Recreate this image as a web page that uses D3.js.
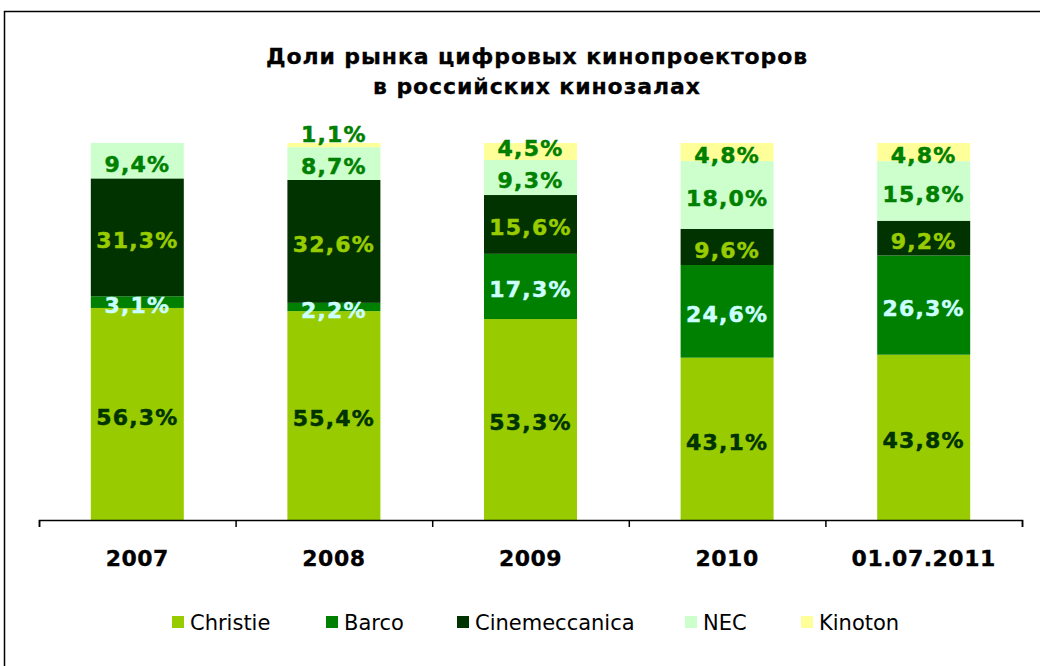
<!DOCTYPE html>
<html>
<head>
<meta charset="utf-8">
<script src="https://cdn.jsdelivr.net/npm/d3@7"></script>
<style>
  body { margin: 0; background: #fff; }
  svg { display: block; }
  text { font-family: "DejaVu Sans", Verdana, sans-serif; }
</style>
</head>
<body>
<div id="chart"></div>
<script>
const categories = ['2007', '2008', '2009', '2010', '01.07.2011'];
const brands = ['Christie', 'Barco', 'Cinemeccanica', 'NEC', 'Kinoton'];
const christie = [56.3, 55.4, 53.3, 43.1, 43.8];
const barco = [3.1, 2.2, 17.3, 24.6, 26.3];
const cinemeccanica = [31.3, 32.6, 15.6, 9.6, 9.2];
const nec = [9.4, 8.7, 9.3, 18.0, 15.8];
const kinoton = [0, 1.1, 4.5, 4.8, 4.8];
const titleLines = ['Доли рынка цифровых кинопроекторов', 'в российских кинозалах'];

const fills = {
    Christie: '#99cc00',
    Barco: '#008000',
    Cinemeccanica: '#003300',
    NEC: '#ccffcc',
    Kinoton: '#ffff99',
};
const labelColors = {
    Christie: '#003300',
    Barco: '#ccffff',
    Cinemeccanica: '#99cc00',
    NEC: '#008000',
    Kinoton: '#008000',
};

const width = 1040;
const height = 666;

const rows = categories.map((cat, i) => ({
    cat,
    Christie: christie[i],
    Barco: barco[i],
    Cinemeccanica: cinemeccanica[i],
    NEC: nec[i],
    Kinoton: kinoton[i],
}));

const svg = d3.select('#chart').append('svg')
    .attr('width', width)
    .attr('height', height);

// outer frame
svg.append('rect')
    .attr('x', 4.5).attr('y', 11.5)
    .attr('width', width + 10).attr('height', height + 10)
    .attr('fill', 'none')
    .attr('stroke', '#000')
    .attr('stroke-width', 1.5);

// title
svg.append('text')
    .attr('text-anchor', 'middle')
    .attr('font-weight', 'bold')
    .attr('font-size', 22)
    .attr('letter-spacing', 0.9)
    .attr('stroke', '#000')
    .attr('stroke-width', 0.3)
    .selectAll('tspan')
    .data(titleLines)
    .join('tspan')
    .attr('x', 537)
    .attr('y', (d, i) => 64 + i * 30)
    .text(d => d);

const x = d3.scaleBand()
    .domain(categories)
    .range([39, 1022])
    .paddingInner(0.527)
    .paddingOuter(0.2635);

const y = d3.scaleLinear().domain([0, 1]).range([520, 143]);

const series = d3.stack()
    .keys(brands)
    .offset(d3.stackOffsetExpand)(rows);

const layer = svg.append('g').attr('class', 'bars')
    .selectAll('g')
    .data(series)
    .join('g')
    .attr('fill', d => fills[d.key]);

layer.selectAll('rect')
    .data(d => d)
    .join('rect')
    .attr('x', d => x(d.data.cat))
    .attr('width', x.bandwidth())
    .attr('y', d => y(d[1]))
    .attr('height', d => y(d[0]) - y(d[1]));

// value labels, centred in each segment; a label too close to the one
// below it is pushed upwards
const fmt = v => `${v.toFixed(1).replace('.', ',')}%`;
const minGap = 32;
const labels = [];
categories.forEach((cat, ci) => {
    let prevY = null;
    series.forEach((s) => {
        const d = s[ci];
        const value = d.data[s.key];
        if (!value) return;
        let ly = y((d[0] + d[1]) / 2) + 3;
        if (prevY !== null && prevY - ly < minGap) ly = prevY - minGap;
        prevY = ly;
        labels.push({cat, key: s.key, value, ly});
    });
});

svg.append('g').attr('class', 'labels')
    .selectAll('text')
    .data(labels)
    .join('text')
    .attr('x', d => x(d.cat) + x.bandwidth() / 2)
    .attr('y', d => d.ly)
    .attr('dy', '0.36em')
    .attr('text-anchor', 'middle')
    .attr('font-weight', 'bold')
    .attr('font-size', 22)
    .attr('letter-spacing', 1.2)
    .attr('fill', d => labelColors[d.key])
    .attr('stroke', d => labelColors[d.key])
    .attr('stroke-width', 0.5)
    .text(d => fmt(d.value));

// category axis line with boundary ticks
const tickScale = d3.scaleLinear().domain([0, categories.length]).range(x.range());
svg.append('g')
    .attr('transform', 'translate(0,520)')
    .call(d3.axisBottom(tickScale).ticks(categories.length).tickSize(7).tickFormat(''))
    .call(g => g.selectAll('path, line').attr('stroke', '#000').attr('stroke-width', 1.5));

svg.append('g')
    .attr('transform', 'translate(0,520)')
    .call(d3.axisBottom(x).tickSize(0).tickPadding(30))
    .call(g => g.select('.domain').remove())
    .call(g => g.selectAll('text')
        .attr('font-family', '"DejaVu Sans", Verdana, sans-serif')
        .attr('font-weight', 'bold')
        .attr('font-size', 22)
        .attr('letter-spacing', 0.5)
        .attr('fill', '#000')
        .attr('stroke', '#000')
        .attr('stroke-width', 0.3));

// legend
const legendX = [172, 326, 457, 685, 801];
const legend = svg.append('g')
    .selectAll('g')
    .data(brands)
    .join('g')
    .attr('transform', (d, i) => `translate(${legendX[i]},616)`);

legend.append('rect')
    .attr('width', 12).attr('height', 12)
    .attr('fill', d => fills[d]);

legend.append('text')
    .attr('x', 18)
    .attr('y', 6)
    .attr('dy', '0.36em')
    .attr('font-size', 21)
    .attr('fill', '#000')
    .text(d => d);
</script>
</body>
</html>
